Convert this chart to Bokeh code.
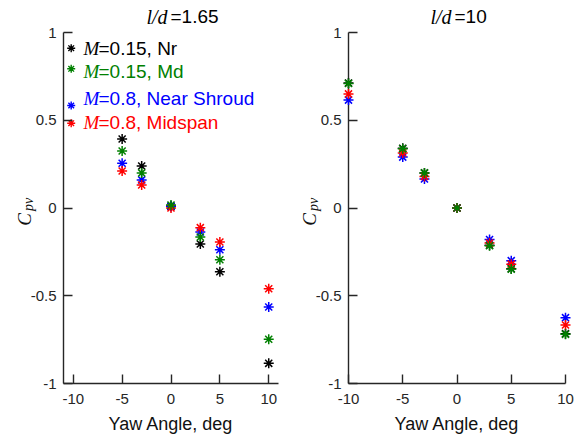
import math

from bokeh.core.properties import value
from bokeh.embed import file_html
from bokeh.layouts import row
from bokeh.models import FixedTicker
from bokeh.plotting import figure
from bokeh.resources import INLINE

# ---------------------------------------------------------------- data
yaw_165 = [-5, -3, 0, 3, 5, 10]
yaw_10 = [-10, -5, -3, 0, 3, 5, 10]

# l/d = 1.65
cpv_165_m015_nr = [0.393, 0.239, 0.010, -0.205, -0.363, -0.885]
cpv_165_m015_md = [0.325, 0.200, 0.017, -0.165, -0.295, -0.748]
cpv_165_m08_ns = [0.255, 0.160, 0.010, -0.137, -0.238, -0.564]
cpv_165_m08_mid = [0.211, 0.131, 0.000, -0.112, -0.194, -0.460]

# l/d = 10
cpv_10_m015_nr = [0.712, 0.340, 0.200, 0.000, -0.212, -0.346, -0.716]
cpv_10_m015_md = [0.710, 0.337, 0.200, 0.000, -0.215, -0.348, -0.720]
cpv_10_m08_ns = [0.615, 0.290, 0.165, 0.000, -0.180, -0.300, -0.625]
cpv_10_m08_mid = [0.650, 0.314, 0.180, 0.000, -0.200, -0.320, -0.667]

series_labels = ["=0.15, Nr", "=0.15, Md", "=0.8, Near Shroud", "=0.8, Midspan"]
series_colors = ["#000000", "#008000", "#0000ff", "#ff0000"]

x_ticks = [-10, -5, 0, 5, 10]
x_tick_labels = ["-10", "-5", "0", "5", "10"]
y_ticks = [-1, -0.5, 0, 0.5, 1]
y_tick_labels = ["-1", "-0.5", "0", "0.5", "1"]

panel_titles = ["=1.65", "=10"]

# ---------------------------------------------------------------- layout
W, H = 290, 441
TOP, BOTTOM = 32, 58
FH = H - TOP - BOTTOM
AXIS = "#262626"
SANS = "Liberation Sans"
SERIF = "Liberation Serif"


class Panel:
    """A figure plus helpers mapping page pixels to its data space."""

    def __init__(self, page_x0, x_start, x_end, border_left, border_right):
        self.xs, self.xe = x_start, x_end
        self.fl = page_x0 + border_left
        self.fw = W - border_left - border_right
        p = figure(width=W, height=H, x_range=(x_start, x_end), y_range=(-1, 1),
                   output_backend="svg", toolbar_location=None,
                   min_border_left=border_left, min_border_right=border_right,
                   min_border_top=TOP, min_border_bottom=BOTTOM)
        p.outline_line_color = None
        p.grid.visible = False
        p.background_fill_color = "white"
        p.border_fill_color = "white"
        for ax in (p.xaxis[0], p.yaxis[0]):
            ax.major_tick_in = 9
            ax.major_tick_out = 0
            ax.minor_tick_line_color = None
            ax.axis_line_color = AXIS
            ax.major_tick_line_color = AXIS
            ax.axis_line_width = 1.4
            ax.major_tick_line_width = 1.4
            ax.major_label_text_font = SANS
            ax.major_label_text_font_size = "15px"
            ax.major_label_text_color = AXIS
        p.xaxis.ticker = FixedTicker(ticks=x_ticks)
        p.yaxis.ticker = FixedTicker(ticks=y_ticks)
        p.xaxis.major_label_overrides = dict(zip(x_ticks, x_tick_labels))
        p.yaxis.major_label_overrides = dict(zip(y_ticks, y_tick_labels))
        p.xaxis.major_label_standoff = 10
        p.yaxis.major_label_standoff = 7
        p.xaxis.axis_label = "Yaw Angle, deg"
        p.xaxis.axis_label_text_font = SANS
        p.xaxis.axis_label_text_font_style = "normal"
        p.xaxis.axis_label_text_font_size = "18px"
        p.xaxis.axis_label_text_color = "#111111"
        p.xaxis.axis_label_standoff = 7
        self.p = p

    def dx(self, px):
        return self.xs + (px - self.fl) * (self.xe - self.xs) / self.fw

    def dy(self, py):
        return 1 - (py - TOP) * 2 / FH

    def text(self, px, py, txt, font=SANS, size=19, style="normal", color="#000000",
             angle=0.0, align="left"):
        r = self.p.text(x=[self.dx(px)], y=[self.dy(py)], text=[txt],
                        text_font=value(font), text_font_size=value(f"{size}px"),
                        text_font_style=style, text_color=color,
                        text_align=align, text_baseline="middle", angle=angle)
        r.level = "overlay"

    def cpv_label(self, axis_px):
        # rotated C with an italic "pv" subscript
        self.text(axis_px - 39, 219, "C", font=SERIF, size=19, style="italic",
                  color="#111111", angle=math.pi / 2, align="center")
        self.text(axis_px - 35, 204, "pv", font=SERIF, size=14, style="italic",
                  color="#111111", angle=math.pi / 2, align="center")

    def title(self, left_px, eq_px, txt):
        self.text(left_px, 16, "l/d", font=SERIF, size=20, style="italic")
        self.text(eq_px, 16, txt, font=SANS, size=19)


def draw_series(panel, xs, ys, color):
    r = panel.p.scatter(xs, ys, marker="asterisk", size=10, line_color=color,
                        line_width=1.5)
    r.level = "overlay"


left = Panel(0, -11, 11, 63, 12)
right = Panel(W, -10, 10, 58, 15)

# draw order: Nr, Near Shroud, Midspan, Md (Md on top)
order = [0, 2, 3, 1]
data_165 = [cpv_165_m015_nr, cpv_165_m015_md, cpv_165_m08_ns, cpv_165_m08_mid]
data_10 = [cpv_10_m015_nr, cpv_10_m015_md, cpv_10_m08_ns, cpv_10_m08_mid]
for i in order:
    draw_series(left, yaw_165, data_165[i], series_colors[i])
    draw_series(right, yaw_10, data_10[i], series_colors[i])

# titles
left.title(146, 170, panel_titles[0])
right.title(430, 454, panel_titles[1])

# y-axis labels
left.cpv_label(63)
right.cpv_label(348)

# legend in the left panel
legend_marker_py = [47.7, 68.3, 105.0, 122.7]
legend_text_py = [48.0, 70.7, 98.3, 121.7]
for i in range(4):
    left.p.scatter([left.dx(70.7)], [left.dy(legend_marker_py[i])], marker="asterisk",
                   size=8, line_color=series_colors[i], line_width=1.4)
    left.text(83, legend_text_py[i], "M", font=SERIF, size=19, style="italic",
              color=series_colors[i])
    left.text(98, legend_text_py[i], series_labels[i], font=SANS, size=19,
              color=series_colors[i])

layout = row(left.p, right.p)
open("out.html", "w").write(file_html(layout, INLINE))
